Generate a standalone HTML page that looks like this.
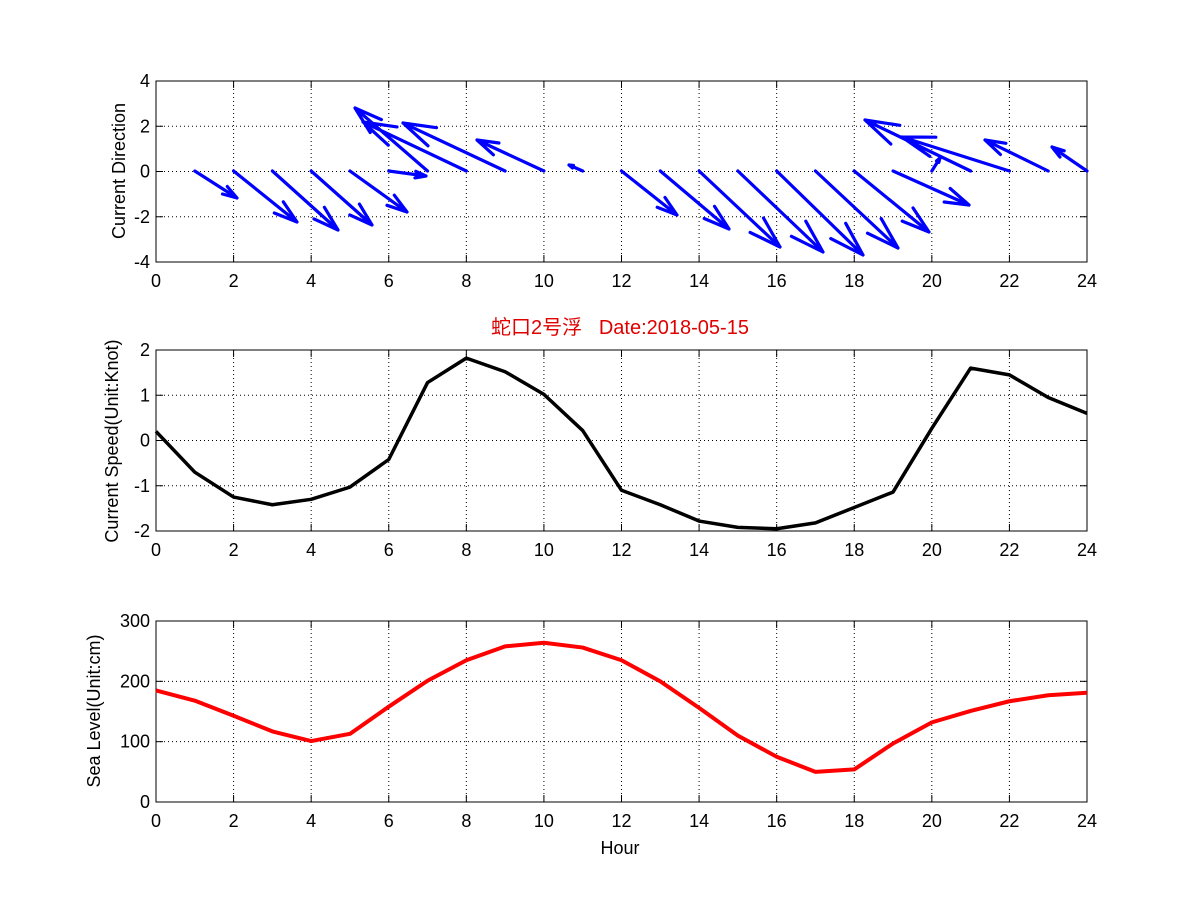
<!DOCTYPE html>
<html><head><meta charset="utf-8"><style>
html,body{margin:0;padding:0;background:#fff}
svg text{font-family:"Liberation Sans","Noto Sans CJK SC",sans-serif;font-size:18px;fill:#000}
</style></head><body>
<svg id="s" width="1201" height="901" xmlns="http://www.w3.org/2000/svg">
<rect width="1201" height="901" fill="#fff"/>
<text x="620" y="334" text-anchor="middle" style="fill:#e00000;font-size:20px">蛇口2号浮&#160;&#160;&#160;Date:2018-05-15</text>
<text x="125" y="171" text-anchor="middle" transform="rotate(-90 125 171)">Current Direction</text>
<text x="118" y="441" text-anchor="middle" transform="rotate(-90 118 441)">Current Speed(Unit:Knot)</text>
<text x="100" y="711" text-anchor="middle" transform="rotate(-90 100 711)">Sea Level(Unit:cm)</text>
<text x="620" y="854" text-anchor="middle">Hour</text>
</svg>
<script>
const s=document.getElementById('s');const NS='http://www.w3.org/2000/svg';
function el(t,a){const e=document.createElementNS(NS,t);for(const k in a)e.setAttribute(k,a[k]);s.appendChild(e);return e;}
const X0=156,X1=1087;const xs=h=>X0+(X1-X0)*h/24;
function axes(top,bot,ylab){
 const n=ylab.length-1;
 for(let i=1;i<12;i++){el('line',{x1:xs(i*2),x2:xs(i*2),y1:top,y2:bot,stroke:'#000','stroke-width':1,'stroke-dasharray':'1,3'});}
 for(let j=1;j<n;j++){const y=top+(bot-top)*j/n;el('line',{x1:X0,x2:X1,y1:y,y2:y,stroke:'#000','stroke-width':1,'stroke-dasharray':'1,3'});}
 el('rect',{x:X0,y:top,width:X1-X0,height:bot-top,fill:'none',stroke:'#000','stroke-width':1});
 for(let i=0;i<=12;i++){const x=xs(i*2);el('line',{x1:x,x2:x,y1:bot,y2:bot-7,stroke:'#000'});el('line',{x1:x,x2:x,y1:top,y2:top+7,stroke:'#000'});
  const t=el('text',{x:x,y:bot+25,'text-anchor':'middle'});t.textContent=i*2;}
 for(let j=0;j<=n;j++){const y=top+(bot-top)*j/n;el('line',{x1:X0,x2:X0+7,y1:y,y2:y,stroke:'#000'});el('line',{x1:X1,x2:X1-7,y1:y,y2:y,stroke:'#000'});
  const t=el('text',{x:X0-6,y:y+6,'text-anchor':'end'});t.textContent=ylab[j];}
}
axes(81,262,['4','2','0','-2','-4']);
axes(350,531,['2','1','0','-1','-2']);
axes(621,802,['300','200','100','0']);
const Q=[[1,237,198],[2,297,222],[3,338,230],[4,372,225],[5,407,212],[6,426,176],[7,355,108],[8,363,122],[9,403,123],[10,477,140],[11,569,165],
[12,677,215],[13,729,229],[14,780,247],[15,823,252],[16,863,255],[17,898,248],[18,929,232],[19,969,205],[20,940,158],[21,865,120],[22,902,137],[23,985,140],[24,1052,147]];
let d='';
for(const [h,ex,ey] of Q){const sx=xs(h),sy=171;const dx=ex-sx,dy=ey-sy;const L=Math.hypot(dx,dy);
 d+=`M${sx},${sy}L${ex},${ey}`;const hl=0.3*L,a=Math.atan2(dy,dx),w=0.3;
 for(const sg of [1,-1]){const bx=ex-hl*Math.cos(a+sg*w),by=ey-hl*Math.sin(a+sg*w);d+=`M${ex},${ey}L${bx.toFixed(1)},${by.toFixed(1)}`;}}
el('path',{d:d,stroke:'#0000ff','stroke-width':3.2,fill:'none','stroke-linecap':'round'});
const V=[0.2,-0.7,-1.25,-1.42,-1.3,-1.03,-0.42,1.28,1.82,1.52,1.02,0.22,-1.1,-1.42,-1.78,-1.92,-1.95,-1.82,-1.48,-1.14,0.27,1.6,1.45,0.95,0.6];
el('polyline',{points:V.map((v,i)=>xs(i)+','+(440.5-45.25*v)).join(' '),fill:'none',stroke:'#000','stroke-width':3.5,'stroke-linejoin':'round'});
const SL=[185,168,143,117,101,113,158,201,235,258,264,256,235,200,156,110,75,50,54,97,132,151,167,177,181];
el('polyline',{points:SL.map((v,i)=>xs(i)+','+(802-0.6033*v)).join(' '),fill:'none',stroke:'#f00','stroke-width':4,'stroke-linejoin':'round'});
</script>
</body></html>
